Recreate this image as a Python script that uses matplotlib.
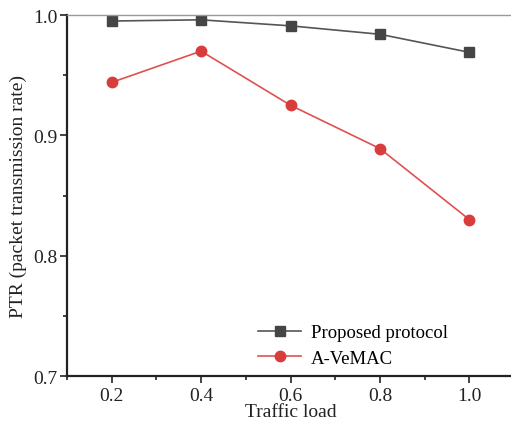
import matplotlib
matplotlib.use('Agg')
import matplotlib.pyplot as plt
from matplotlib.ticker import MultipleLocator

load = [0.2, 0.4, 0.6, 0.8, 1.0]
proposed = [0.995, 0.996, 0.991, 0.984, 0.969]
avemac = [0.944, 0.970, 0.925, 0.889, 0.830]

plt.rcParams['font.family'] = ['Liberation Serif', 'DejaVu Serif']

fig = plt.figure(figsize=(5.11, 4.27), dpi=100)
ax = fig.add_axes([0.131, 0.117, 0.875, 0.8455])

ax.plot(load, proposed, color='#555555', lw=1.2, marker='s', ms=7,
        mfc='#454545', mec='#454545', label='Proposed protocol')
ax.plot(load, avemac, color='#e05050', lw=1.2, marker='o', ms=7.5,
        mfc='#d83c3c', mec='#d83c3c', label='A-VeMAC')

ax.set_xlim(0.1, 1.1)
ax.set_ylim(0.7, 1.0)
ax.xaxis.set_major_locator(MultipleLocator(0.2))
ax.xaxis.set_minor_locator(MultipleLocator(0.1))
ax.yaxis.set_major_locator(MultipleLocator(0.1))
ax.yaxis.set_minor_locator(MultipleLocator(0.05))
ax.set_xticks([0.2, 0.4, 0.6, 0.8, 1.0])
ax.set_xticklabels(['0.2', '0.4', '0.6', '0.8', '1.0'])
ax.tick_params(which='major', direction='out', length=5, width=1.2, labelsize=14, colors='#222222')
ax.tick_params(which='minor', direction='out', length=3, width=1.2, colors='#222222')
ax.tick_params(axis='x', pad=3)
ax.tick_params(axis='y', pad=2)

for s in ['left', 'bottom']:
    ax.spines[s].set_linewidth(1.6)
    ax.spines[s].set_color('#222222')
ax.spines['top'].set_color('#999999')
ax.spines['top'].set_linewidth(1.0)
ax.spines['right'].set_visible(False)

ax.set_xlabel('Traffic load', fontsize=14, labelpad=-1, color='#222222')
ax.set_ylabel('PTR (packet transmission rate)', fontsize=14, labelpad=4, color='#222222')

ax.legend(loc='center left', bbox_to_anchor=(0.39, 0.085), frameon=False, fontsize=13.5,
          handlelength=2.3, handletextpad=0.5, labelspacing=0.45)

fig.savefig('out.png', dpi=100)
